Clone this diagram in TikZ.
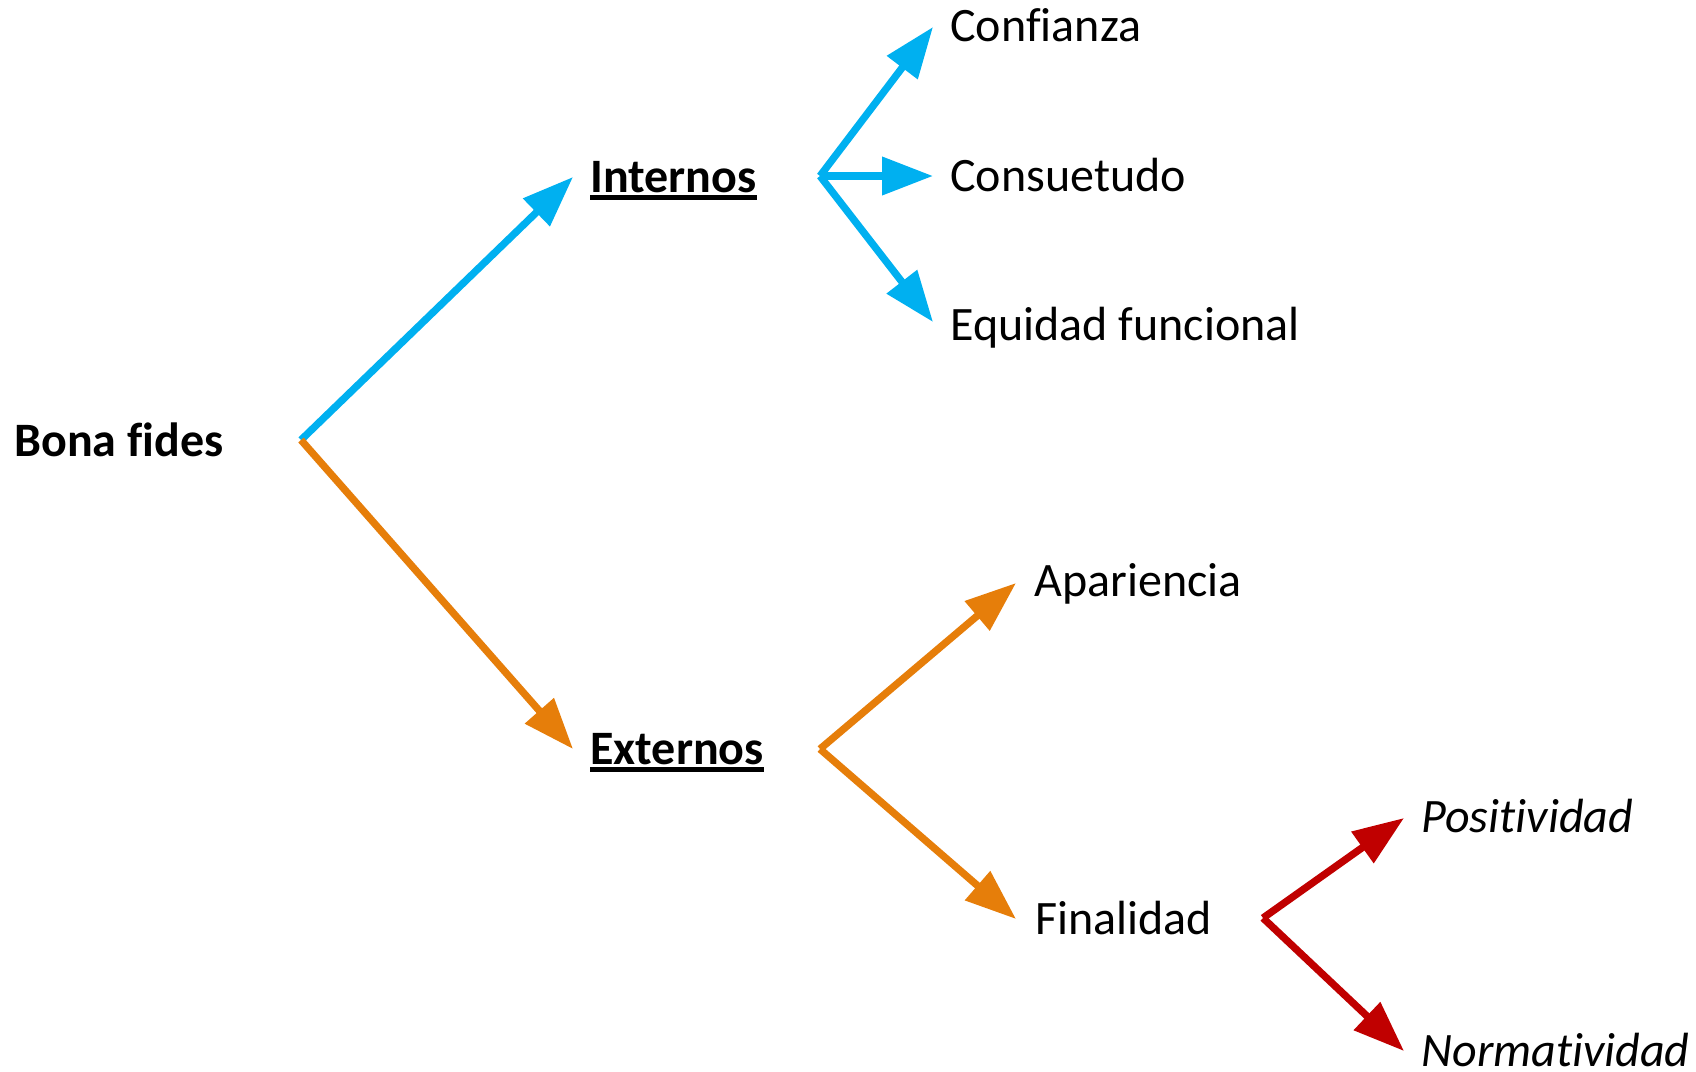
\documentclass[tikz,border=0pt]{standalone}
\usepackage{fontspec}
\setmainfont{Carlito}[Ligatures=NoCommon]
\usetikzlibrary{arrows.meta}
\definecolor{cblue}{HTML}{00B0F0}
\definecolor{corange}{HTML}{E67E0A}
\definecolor{cred}{HTML}{C00000}
\begin{document}
\begin{tikzpicture}[x=0.5pt,y=-0.5pt,
  lbl/.style={anchor=base west,inner sep=0pt,font=\fontsize{24}{28}\selectfont},
  arr/.style={line width=3.65pt,-{Triangle[length=25.5pt,width=18.5pt]}},
  uline/.style={line width=2.5pt}]
\useasboundingbox (0,0) rectangle (1696,1071);
% labels
\node[lbl,font=\fontsize{24}{28}\selectfont\bfseries] (bona) at (14,456) {Bona fides};
\node[lbl,font=\fontsize{24}{28}\selectfont\bfseries] (int) at (590,192) {Internos};
\node[lbl,font=\fontsize{24}{28}\selectfont\bfseries] (ext) at (590,764) {Externos};
\node[lbl] (conf) at (950,41.5) {Confianza};
\node[lbl] (cons) at (950,191.5) {Consuetudo};
\node[lbl] (equi) at (950,340) {Equidad funcional};
\node[lbl] (apar) at (1034,596) {Apariencia};
\node[lbl] (fina) at (1035,934) {Finalidad};
\node[lbl,font=\fontsize{24}{28}\selectfont\itshape] (posi) at (1421,832) {Positividad};
\node[lbl,font=\fontsize{24}{28}\selectfont\itshape] (norm) at (1421,1066) {Normatividad};
% underlines
\draw[uline] ([yshift=-2.9pt]int.base west) -- ([yshift=-2.9pt]int.base east);
\draw[uline] ([yshift=-2.9pt]ext.base west) -- ([yshift=-2.9pt]ext.base east);
% coordinates
\coordinate (o) at (301,440);
\coordinate (tint) at (573,177);
\coordinate (text) at (573,749);
\coordinate (fi) at (820,176);
\coordinate (tconf) at (933,27);
\coordinate (tcons) at (933,176);
\coordinate (tequi) at (933,322);
\coordinate (fe) at (820,749);
\coordinate (tapar) at (1016,583);
\coordinate (tfina) at (1016,919);
\coordinate (fr) at (1263,918);
\coordinate (tposi) at (1404,818);
\coordinate (tnorm) at (1404,1051);
% arrows
\draw[arr,cblue] (o) -- (tint);
\draw[arr,corange] (o) -- (text);
\draw[arr,cblue] (fi) -- (tconf);
\draw[arr,cblue] (fi) -- (tcons);
\draw[arr,cblue] (fi) -- (tequi);
\draw[arr,corange] (fe) -- (tapar);
\draw[arr,corange] (fe) -- (tfina);
\draw[arr,cred] (fr) -- (tposi);
\draw[arr,cred] (fr) -- (tnorm);
\end{tikzpicture}
\end{document}
